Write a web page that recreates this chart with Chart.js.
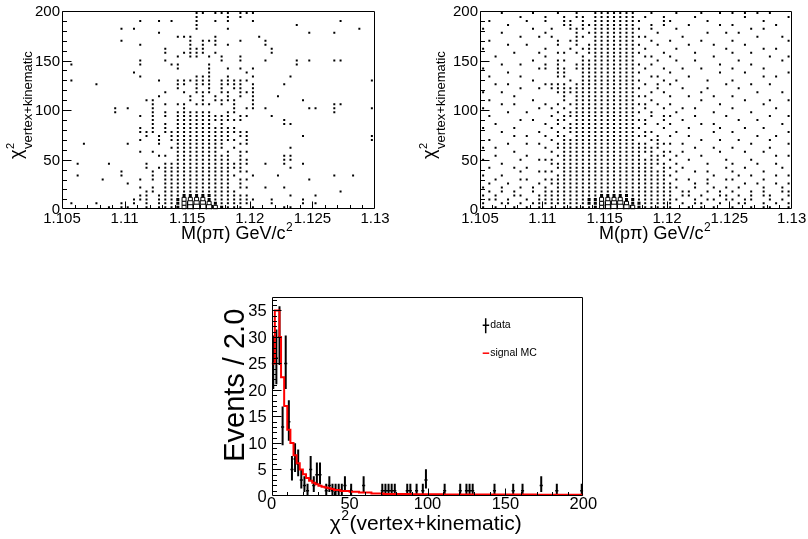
<!DOCTYPE html>
<html lang="en">
<head>
<meta charset="utf-8">
<title>Lambda candidates: M(p pi) vs vertex+kinematic chi2</title>
<script src="https://cdn.jsdelivr.net/npm/chart.js@4.4.1/dist/chart.umd.min.js"></script>
<style>
  html, body { margin: 0; padding: 0; background: #fff; }
  #page { position: relative; width: 808px; height: 539px; overflow: hidden; }
  #page canvas { position: absolute; left: 0; top: 0; }
</style>
</head>
<body>
<div id="page">
  <canvas id="mass-chi2-data" width="808" height="539"></canvas>
  <canvas id="mass-chi2-mc" width="808" height="539"></canvas>
  <canvas id="chi2-compare" width="808" height="539"></canvas>
</div>
<script>
const FONT = "'Liberation Sans', Arial, Helvetica, sans-serif";

// binning of the mass vs chi2 maps
const massRange = [1.105, 1.13];
const chi2Range = [0, 200];
const nMassBins = 50;
const nChi2Bins = 50;

const massTicks = [1.105, 1.11, 1.115, 1.12, 1.125, 1.13];
const chi2Ticks = [0, 50, 100, 150, 200];

// box level per bin, first string = top row (chi2 196-200)
// "." empty, 1 smallest box ... 5 largest; groups of 10 mass bins
const dataBoxRows = [
  ".......... .......... .11.111.11 1......... ..........",
  ".......... .......... .1....1.1. .......... ..........",
  ".......... ..1..1.1.. .1..1.1... 1......... ....1.....",
  ".......... .......... .1........ .......1.. ..........",
  ".........1 .1........ .1....1... .......... .......1..",
  ".......... .....1.... .......... .........1 ...1......",
  ".......... ........11 1...1..... .1........ ..........",
  ".........1 .......... 1.111...1. ..1....... ..........",
  ".......... ..1....... 1.1.1.1... ..1....... ..........",
  ".......... ......1... 111....... ...1...... ..........",
  ".......... ......1..1 111.1..... ...1...... ..........",
  ".......... ........1. 11.1.1..1. .......... ..........",
  ".......... ..1...1... .....1..1. ..1....1.1 ...11.....",
  ".1........ ..1....11. ...1...... .......1.. ..........",
  ".......... ........1. ...1..1.1. 1......... ..........",
  ".......... .1........ ...1.....1 .......... ..........",
  ".......... ..1....... .111..1... 1.....1... ..........",
  ".1........ .....1..11 1111.11111 .......... .........1",
  ".....1.... ........11 .111.1111. 1....1.... ..........",
  ".......... ........1. .1.1.1.11. 1......... ..........",
  ".......... ......1..1 .111.11.11 1......... ..........",
  ".......... .....1.... 1.1.1.1.1. 1...1..... ..........",
  ".......... ...11..... 1.1.1111.. 1.......1. ..........",
  ".......... ....1.1.11 .111.1.1.. 1......... ...11.....",
  "........1. 1...1....1 .......1.1 1.1......1 1..1.....1",
  "........1. ....1.1.11 1111..11.. .......... ...1......",
  ".......... ..1.1.1.11 1111111.11 ...1...... ..........",
  ".......... ....1...11 111111111. .....1.... ..........",
  ".......... ....1.1.11 1111.1.... .....11... ..........",
  ".......... ..1.1.1.11 11111111.. .......... ..........",
  ".......... ..111.1111 1111111111 .......... ..........",
  ".......... ...1.1.111 1111111.11 ........1. .........1",
  ".......... ..1..1.111 11111111.1 .......... .........1",
  "...1...... 1....1..11 111111..11 .......... ..........",
  ".......... .......111 111111.1.. ......1... ..........",
  ".......... ..1.1...11 11111.1.11 .......... ..........",
  ".......... .....11.11 1111111.1. .....11... ..........",
  ".......... ........11 1111111.11 .....11... ..........",
  "..1....1.. ...1..1111 1111111111 ..1..1..1. ..........",
  ".......... ...1.11111 111111111. ......1... ..........",
  ".........1 ....1.1111 1111111.11 .......... ..........",
  "..1......1 ....1.1111 11111111.. 1...1..... ...1..1...",
  "......1... ..1.1.1111 1111111.11 .........1 ..........",
  ".......... 1.....1111 1111111.1. .......... ..........",
  ".......... ..1.1.1111 1111111.11 ..1..1.... ..........",
  ".......... ...11.1111 11111111.. .......... ....1.....",
  ".......... ..11.11112 2222111111 ......1... 1.........",
  ".......... .111.11123 3332111111 1..1....1. ..........",
  ".1...1...1 .1.1.11123 4443211111 ...1....1. 1.........",
  ".......1.1 1..1.11123 455432111. 1....11... ..........",
];

const mcBoxRows = [
  "...1....1. ..1..1..11 11111..1.. .1...1..1. 1.1.1.1...",
  "......1... 1..1.11.11 11111.1..1 ....1..... ..1......1",
  ".1.....1.. 1..11.1.11 111111...1 1.....1... .....1....",
  "....1..... ...11.1111 11111..1.1 ...1....1. 1......1..",
  "1.......1. .1..111.11 111111.1.. .1........ ...1.1....",
  "...1...... 1....1.111 11111...1. ......1..1 .1........",
  "......1..1 .1...11.11 1111111... ..1....... ....1...1.",
  ".1........ ..1.11..11 11111..1.. 1....1.... 1........1",
  "....1..1.. ..1..1.111 111111..1. ...1...1.. ..1.......",
  "1......... 1...1.1111 11111.1... .1.......1 .....1.1..",
  ".....1...1 ..11.1.111 111111...1 ....1..... 1..1......",
  "..1....... 1.....1.11 11111.11.. 1......1.. ......1..1",
  "........1. ..11..1111 11111...1. .1..1..... .1......1.",
  "...1..1... 1.1..11111 111111.1.. ........1. ...1......",
  "1........1 1.11.11111 11111.1..1 ..1..1.... 1....1....",
  "....1..... ..11..1111 111111.... 1.......1. ..1......1",
  ".1....1... ..11..1111 11111..11. ...1...... .....1.1..",
  "........1. ....1.1111 111111...1 .1....1... 1.........",
  "..1.1..... 1111.11111 11111.1.1. 1........1 ...1..1...",
  "......1..1 .111111111 111111..1. ..1...1... .1........",
  "1..1...... ..11111111 11111..1.1 .....1.... ....1...1.",
  ".....1.... ...1.11111 1111111... 1..1...1.. 1.........",
  ".1......1. ...1.11111 11111..1.. .....1.... ..1...1..1",
  "...1.1.... 1.1.111111 1111111.1. 1.......1. .....1....",
  "1........1 .1.1.11111 11111.1..1 ..1.1..... 1......1..",
  "....1..1.. ..1.111111 111111.1.. .1.....1.. ...1......",
  ".1........ .1.1111111 11111..1.1 1...1....1 ......1..1",
  "......1.1. ..11.11111 1111111..1 ..1....... .1..1.....",
  "..1....... 1.1.111111 11111.1.1. 1....1.1.. ........1.",
  "1....1.... .1.1111111 111111...1 ...1....1. ..1..1....",
  "...1.....1 ..1.111111 11111.11.. .1.....1.. 1........1",
  ".....1.1.. 1.11.11111 1111111.1. 1..1...... ....1..1..",
  ".1........ .1.1111111 11111..11. .....1..1. .1....1...",
  "....1..1.1 ..11111111 1111111.11 1.1....... ...1.....1",
  "1.1....... 1.11111111 111111111. ....1..1.. 1.....1...",
  ".....1.... .1.1111111 11111111.1 1.1.....1. ..1..1....",
  "..1....1.. ..11111111 111111.111 .1...1.... .......1.1",
  "1.....1..1 11.1111111 111111111. 1..1.....1 ...1......",
  "...1...... .111111111 1111111111 .1....1... 1...1..1..",
  ".1...1.1.. ..11111111 11111111.1 1.1......1 ..1.....1.",
  "......1..1 11.1111111 1111111111 .1..1.1... 1....1....",
  "1..1...... ..11111111 1111111111 1......1.. .1.1...1.1",
  "..1...11.. 1111111111 1111111111 .1.1..1..1 1....1....",
  ".1..1....1 .111111111 1111111111 1...1.1... ..1.1..1.1",
  "1..1..1.1. 1.11111111 1111111111 11..1..1.1 .1...1..1.",
  ".1.1.1..1. 1111111111 1111111111 1.11..1.1. 1..1.1..11",
  "1.1..11..1 1111111112 2222111111 1.11.1..11 .1.1.11..1",
  ".11.1..1.1 1111111223 3332211111 11..1.11.1 1.11..1.1.",
  "1..11.1.11 1111111223 4443221111 1.1.11..1. .11..1.1.1",
  "1.1..1.1.1 .1.1111123 4554321111 1..1.1.1.. 1..1.11..1",
];

// chi2 distribution, 2-unit bins (only non-empty bins)
const chi2Centers = [1, 3, 5, 7, 9, 11, 13, 15, 17, 19, 21, 23, 25, 27, 29, 31, 35, 37, 39, 41,
  43, 45, 47, 51, 59, 71, 73, 75, 77, 79, 87, 89, 93, 97, 99, 111, 121, 125, 127, 129,
  143, 155, 161, 173, 183, 199];
const chi2Counts = [25, 26, 30, 13, 25, 14, 5, 7, 6, 3, 2, 1, 5, 2, 4, 4, 1, 2, 1, 1,
  1, 1, 2, 1, 2, 1, 1, 1, 1, 1, 1, 1, 1, 1, 3, 1, 1, 1, 1, 1,
  1, 1, 1, 2, 1, 1];

// signal MC shape: left edges of the steps and their heights
const mcEdges = [0, 2, 5, 6, 8, 10, 12, 14, 16, 18, 20, 22, 24, 26, 28, 30, 32, 34, 36, 38,
  40, 44, 50, 56, 64, 72, 90, 110, 140, 170, 200];
const mcHeights = [25, 35, 30, 22.4, 17, 12.5, 10, 7.7, 6.2, 5.0, 4.1, 3.4, 2.9, 2.5, 2.2, 1.95,
  1.75, 1.6, 1.45, 1.3, 1.15, 0.95, 0.8, 0.65, 0.45, 0.4, 0.35, 0.3, 0.28, 0.25];

const eventTicks = [0, 5, 10, 15, 20, 25, 30, 35];
const chi2AxisTicks = [0, 50, 100, 150, 200];

// box side in px for each level
const boxSide = [0, 2.0, 3.0, 4.0, 5.2, 6.2];

// frame with inward ticks and tick labels
const rootFrame = (cfg) => ({
  id: "rootFrame",
  afterDatasetsDraw(chart) {
    const { ctx, chartArea: a } = chart;
    const sx = chart.scales.x;
    const sy = chart.scales.y;
    const L = Math.round(a.left) + 0.5;
    const R = Math.round(a.right) - 0.5;
    const T = Math.round(a.top) + 0.5;
    const B = Math.round(a.bottom) - 0.5;

    ctx.save();
    ctx.strokeStyle = "#000";
    ctx.lineWidth = 1;
    ctx.beginPath();
    ctx.rect(L, T, R - L, B - T);

    const nx = Math.floor((sx.max - sx.min) / cfg.xMinor + 1e-6);
    for (let k = 1; k < nx; k++) {
      const px = Math.round(sx.getPixelForValue(sx.min + k * cfg.xMinor)) + 0.5;
      const len = k % cfg.xPer === 0 ? cfg.xTick : cfg.xTick / 2;
      ctx.moveTo(px, B);
      ctx.lineTo(px, B - len);
    }
    const ny = Math.floor((sy.max - sy.min) / cfg.yMinor + 1e-6);
    for (let k = 1; k <= ny; k++) {
      const py = Math.round(sy.getPixelForValue(sy.min + k * cfg.yMinor)) + 0.5;
      const len = k % cfg.yPer === 0 ? cfg.yTick : cfg.yTick / 2;
      ctx.moveTo(L, py);
      ctx.lineTo(L + len, py);
    }
    ctx.stroke();

    ctx.fillStyle = "#000";
    ctx.font = cfg.font;
    ctx.textAlign = "center";
    ctx.textBaseline = "alphabetic";
    cfg.xLabels.forEach((v) => ctx.fillText(String(v), sx.getPixelForValue(v), a.bottom + cfg.xDrop));
    ctx.textAlign = "right";
    ctx.textBaseline = "middle";
    cfg.yLabels.forEach((v) => ctx.fillText(String(v), a.left - cfg.yGap, sy.getPixelForValue(v) + 1));
    ctx.restore();
  },
});

// axis titles of the mass vs chi2 maps
const massTitles = (gap) => ({
  id: "massTitles",
  afterDraw(chart) {
    const { ctx, chartArea: a } = chart;
    ctx.save();
    ctx.fillStyle = "#000";
    ctx.textAlign = "left";
    ctx.textBaseline = "alphabetic";
    let x = a.left + 119;
    const y = a.bottom + 30;
    ctx.font = `18px ${FONT}`;
    ctx.fillText("M(pπ) GeV/c", x, y);
    x += ctx.measureText("M(pπ) GeV/c").width + 0.5;
    ctx.font = `12px ${FONT}`;
    ctx.fillText("2", x, y - 8);

    ctx.translate(a.left - gap, a.top + 148);
    ctx.rotate(-Math.PI / 2);
    ctx.font = `18px ${FONT}`;
    ctx.fillText("χ", 0, 0);
    const w = ctx.measureText("χ").width;
    ctx.font = `11px ${FONT}`;
    ctx.fillText("2", w + 0.5, -8);
    ctx.font = `13px ${FONT}`;
    ctx.fillText("vertex+kinematic", w + 0.5, 10);
    ctx.restore();
  },
});

const boxPoints = (rows) => {
  const dx = (massRange[1] - massRange[0]) / nMassBins;
  const dy = (chi2Range[1] - chi2Range[0]) / nChi2Bins;
  const pts = [];
  rows.forEach((row, j) => {
    const cells = row.replace(/ /g, "");
    for (let i = 0; i < cells.length; i++) {
      if (cells[i] === ".") continue;
      pts.push({
        x: massRange[0] + (i + 0.5) * dx,
        y: chi2Range[1] - (j + 0.5) * dy,
        level: Number(cells[i]),
      });
    }
  });
  return pts;
};

const boxLevel = (ctx) => (ctx.raw ? ctx.raw.level : 1);

const boxDataset = (rows) => ({
  data: boxPoints(rows),
  pointStyle: "rect",
  pointRadius: (ctx) => boxSide[boxLevel(ctx)] / Math.SQRT2,
  pointBackgroundColor: (ctx) => (boxLevel(ctx) >= 3 ? "#fff" : "#000"),
  pointBorderColor: "#000",
  pointBorderWidth: (ctx) => (boxLevel(ctx) >= 3 ? 1 : 0),
});

const massChart = (id, rows, padding, titleGap) =>
  new Chart(document.getElementById(id), {
    type: "scatter",
    data: { datasets: [boxDataset(rows)] },
    options: {
      responsive: false,
      animation: false,
      events: [],
      layout: { padding },
      scales: {
        x: { type: "linear", display: false, min: massRange[0], max: massRange[1] },
        y: { type: "linear", display: false, min: chi2Range[0], max: chi2Range[1] },
      },
      plugins: { legend: { display: false }, tooltip: { enabled: false } },
    },
    plugins: [
      rootFrame({
        xMinor: 0.001, xPer: 5, yMinor: 10, yPer: 5, xTick: 7, yTick: 9,
        xLabels: massTicks, yLabels: chi2Ticks, font: `15px ${FONT}`, xDrop: 13.4, yGap: 2,
      }),
      massTitles(titleGap),
    ],
  });

massChart("mass-chi2-data", dataBoxRows, { left: 62, top: 11, right: 433, bottom: 329.7 }, 40);
massChart("mass-chi2-mc", mcBoxRows, { left: 480, top: 11, right: 16.3, bottom: 329.7 }, 45);

// data error bars: vertical = Poisson interval, horizontal = bin width
const vBars = [];
const hBars = [];
chi2Centers.forEach((xc, k) => {
  const n = chi2Counts[k];
  const s = Math.sqrt(n);
  vBars.push({ x: xc, y: n - s + 0.17 }, { x: xc, y: n + s + 0.3 }, { x: xc, y: null });
  hBars.push({ x: xc - 1, y: n }, { x: xc + 1, y: n }, { x: xc, y: null });
});
const mcCurve = mcEdges.map((e, k) => ({ x: e, y: mcHeights[Math.min(k, mcHeights.length - 1)] }));

const fitTitles = {
  id: "fitTitles",
  afterDraw(chart) {
    const { ctx, chartArea: a } = chart;
    ctx.save();
    ctx.fillStyle = "#000";
    ctx.textAlign = "left";
    ctx.textBaseline = "alphabetic";
    let x = a.left + 58;
    const y = a.bottom + 34;
    ctx.font = `21px ${FONT}`;
    ctx.fillText("χ", x, y);
    x += ctx.measureText("χ").width + 0.5;
    ctx.font = `14px ${FONT}`;
    ctx.fillText("2", x, y - 10);
    x += ctx.measureText("2").width + 0.5;
    ctx.font = `21px ${FONT}`;
    ctx.fillText("(vertex+kinematic)", x, y);

    // legend
    const lx = a.left + 211;
    const ly = a.top;
    ctx.lineWidth = 1.5;
    ctx.strokeStyle = "#000";
    ctx.beginPath();
    ctx.moveTo(lx + 3, ly + 21.5);
    ctx.lineTo(lx + 3, ly + 36.5);
    ctx.moveTo(lx, ly + 28.5);
    ctx.lineTo(lx + 6.5, ly + 28.5);
    ctx.stroke();
    ctx.strokeStyle = "#ff0000";
    ctx.beginPath();
    ctx.moveTo(lx, ly + 56.5);
    ctx.lineTo(lx + 6.5, ly + 56.5);
    ctx.stroke();
    ctx.font = `10.5px ${FONT}`;
    ctx.fillText("data", lx + 7.5, ly + 31.5);
    ctx.fillText("signal MC", lx + 7.5, ly + 59.5);

    ctx.translate(a.left - 28, a.top + 12);
    ctx.rotate(-Math.PI / 2);
    ctx.textAlign = "right";
    ctx.font = `29px ${FONT}`;
    ctx.fillText("Events / 2.0", 0, 0);
    ctx.restore();
  },
};

new Chart(document.getElementById("chi2-compare"), {
  type: "scatter",
  data: {
    datasets: [
      { label: "signal MC", data: mcCurve, showLine: true, stepped: "before", borderColor: "#ff0000", borderWidth: 2, pointRadius: 0 },
      { label: "data", data: vBars, showLine: true, spanGaps: false, borderColor: "#000", borderWidth: 2, pointRadius: 0 },
      { label: "data", data: hBars, showLine: true, spanGaps: false, borderColor: "#000", borderWidth: 1.5, pointRadius: 0 },
    ],
  },
  options: {
    responsive: false,
    animation: false,
    events: [],
    layout: { padding: { left: 271.7, top: 296.7, right: 224.7, bottom: 43 } },
    scales: {
      x: { type: "linear", display: false, min: 0, max: 200 },
      y: { type: "linear", display: false, min: 0, max: 37.6 },
    },
    plugins: { legend: { display: false }, tooltip: { enabled: false } },
  },
  plugins: [
    rootFrame({
      xMinor: 10, xPer: 5, yMinor: 1, yPer: 5, xTick: 7, yTick: 9,
      xLabels: chi2AxisTicks, yLabels: eventTicks, font: `16.5px ${FONT}`, xDrop: 13, yGap: 5,
    }),
    fitTitles,
  ],
});
</script>
</body>
</html>
